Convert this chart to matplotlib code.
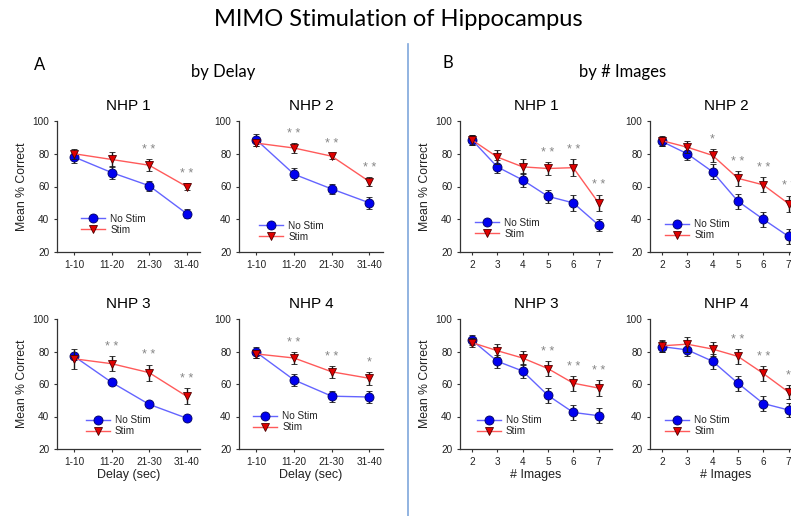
import matplotlib
matplotlib.use("Agg")
import matplotlib.pyplot as plt
from matplotlib.lines import Line2D

# -------------------
# data
# -------------------
delay_labels = ["1-10", "11-20", "21-30", "31-40"]
image_labels = ["2", "3", "4", "5", "6", "7"]

# by delay
d1_nostim = [78, 68.5, 60.5, 43.5]
d1_nostim_err = [3.5, 4, 3, 3]
d1_stim = [80, 76.5, 73, 60]
d1_stim_err = [3, 4.5, 3.5, 2]
d1_stars = ["", "", "* *", "* *"]

d2_nostim = [88.5, 67.5, 58.5, 50]
d2_nostim_err = [3.5, 3.5, 3, 3.5]
d2_stim = [86.5, 83.5, 78.5, 63]
d2_stim_err = [2, 3, 2, 2.5]
d2_stars = ["", "* *", "* *", "* *"]

d3_nostim = [77, 61, 47.5, 39]
d3_nostim_err = [1.5, 1, 1, 1]
d3_stim = [75.5, 72.5, 67, 52.5]
d3_stim_err = [6, 4.5, 5, 5]
d3_stars = ["", "* *", "* *", "* *"]

d4_nostim = [79.5, 62.5, 52.5, 52]
d4_nostim_err = [3.5, 3.5, 3.5, 3.5]
d4_stim = [78.5, 76, 67.5, 63.5]
d4_stim_err = [2.5, 3.5, 3.5, 4]
d4_stars = ["", "* *", "* *", "*"]

# by number of images
i1_nostim = [88.5, 72, 64, 54, 50, 36.5]
i1_nostim_err = [3, 4, 4.5, 4, 5, 3.5]
i1_stim = [88.5, 78, 72, 71, 71.5, 50]
i1_stim_err = [3, 4.5, 4.5, 4, 5, 5]
i1_stars = ["", "", "", "* *", "* *", "* *"]

i2_nostim = [87.5, 80, 69, 51, 40, 29.5]
i2_nostim_err = [3, 4, 4.5, 4.5, 4.5, 4.5]
i2_stim = [88, 84, 79, 65, 61, 49.5]
i2_stim_err = [3, 3.5, 4, 4.5, 4.5, 5]
i2_stars = ["", "", "*", "* *", "* *", "* *"]

i3_nostim = [87, 74, 68, 53, 42.5, 40.5]
i3_nostim_err = [3, 4, 4.5, 4.5, 4.5, 4.5]
i3_stim = [85.5, 80.5, 76, 69.5, 60.5, 57.5]
i3_stim_err = [3, 4, 4.5, 4.5, 4.5, 5]
i3_stars = ["", "", "", "* *", "* *", "* *"]

i4_nostim = [83, 81, 74, 60.5, 48, 44]
i4_nostim_err = [3.5, 4, 4.5, 4.5, 4.5, 4.5]
i4_stim = [83.5, 84.5, 81.5, 77, 66.5, 55]
i4_stim_err = [3.5, 4.5, 4.5, 4.5, 4.5, 4.5]
i4_stars = ["", "", "", "* *", "* *", "*"]

W, H = 791, 516
fig = plt.figure(figsize=(W / 100, H / 100), dpi=100)
fig.patch.set_facecolor("white")
FONT = ["Liberation Sans", "DejaVu Sans"]


def px_axes(left, top, width, height):
    return fig.add_axes([left / W, 1 - (top + height) / H, width / W, height / H])


def panel(ax, xs, labels, nostim, nostim_err, stim, stim_err, stars, title,
          xlim, leg_xy, ylabel=False, xlabel=None):
    ax.errorbar(xs, nostim, yerr=nostim_err, color="#6464ff", lw=1.0,
                marker="o", ms=6.5, mfc="#0000f0", mec="#000060", mew=0.6,
                ecolor="#1a1a1a", elinewidth=1.0, capsize=2.3, capthick=1.0, zorder=3)
    ax.errorbar(xs, stim, yerr=stim_err, color="#ff5a5a", lw=1.0,
                marker="v", ms=5.8, mfc="#e00000", mec="#500000", mew=0.6,
                ecolor="#1a1a1a", elinewidth=1.0, capsize=2.3, capthick=1.0, zorder=4)
    for x, s, e, st in zip(xs, stim, stim_err, stars):
        if st:
            ax.text(x, s + e + 2.0, st, ha="center", va="bottom", fontsize=9,
                    color="#858585", family=FONT)
    ax.set_xlim(*xlim)
    ax.set_ylim(20, 100)
    ax.set_yticks([20, 40, 60, 80, 100])
    ax.set_xticks(xs)
    ax.set_xticklabels(labels)
    for sp in ["top", "right"]:
        ax.spines[sp].set_visible(False)
    for sp in ["left", "bottom"]:
        ax.spines[sp].set_color("#333333")
        ax.spines[sp].set_linewidth(0.9)
    ax.tick_params(labelsize=7.2, length=2.5, width=0.8, colors="#333333", pad=3)
    for t in ax.get_xticklabels() + ax.get_yticklabels():
        t.set_family(FONT)
        t.set_color("#222222")
    ax.set_title(title, fontsize=11, family=FONT, pad=8)
    if ylabel:
        ax.set_ylabel("Mean % Correct", fontsize=8.8, family=FONT, labelpad=3,
                      color="#222222")
    if xlabel:
        ax.set_xlabel(xlabel, fontsize=9, family=FONT, labelpad=2, color="#222222")
    h1 = Line2D([], [], color="#6464ff", lw=1.0, marker="o", ms=6.5,
                mfc="#0000f0", mec="#000060", mew=0.6)
    h2 = Line2D([], [], color="#ff5a5a", lw=1.0, marker="v", ms=5.8,
                mfc="#e00000", mec="#500000", mew=0.6)
    leg = ax.legend([h1, h2], ["No Stim", "Stim"], loc="lower left",
                    bbox_to_anchor=leg_xy, frameon=False, fontsize=7.2,
                    handlelength=2.4, handletextpad=0.5, labelspacing=0.1,
                    borderpad=0, borderaxespad=0)
    for t in leg.get_texts():
        t.set_family(FONT)
        t.set_color("#222222")


dx = [0, 1, 2, 3]
ix = [2, 3, 4, 5, 6, 7]
dlim = (-0.46, 3.36)
ilim = (1.53, 7.53)

a = px_axes(57, 121, 143, 131)
panel(a, dx, delay_labels, d1_nostim, d1_nostim_err, d1_stim, d1_stim_err,
      d1_stars, "NHP 1", dlim, (0.17, 0.13), ylabel=True)
a = px_axes(239, 121, 144, 131)
panel(a, dx, delay_labels, d2_nostim, d2_nostim_err, d2_stim, d2_stim_err,
      d2_stars, "NHP 2", dlim, (0.14, 0.08))
a = px_axes(57, 319, 143, 130)
panel(a, dx, delay_labels, d3_nostim, d3_nostim_err, d3_stim, d3_stim_err,
      d3_stars, "NHP 3", dlim, (0.2, 0.1), ylabel=True, xlabel="Delay (sec)")
a = px_axes(239, 319, 144, 130)
panel(a, dx, delay_labels, d4_nostim, d4_nostim_err, d4_stim, d4_stim_err,
      d4_stars, "NHP 4", dlim, (0.1, 0.13), xlabel="Delay (sec)")

a = px_axes(460, 121, 152, 131)
panel(a, ix, image_labels, i1_nostim, i1_nostim_err, i1_stim, i1_stim_err,
      i1_stars, "NHP 1", ilim, (0.1, 0.1), ylabel=True)
a = px_axes(650, 121, 152, 131)
panel(a, ix, image_labels, i2_nostim, i2_nostim_err, i2_stim, i2_stim_err,
      i2_stars, "NHP 2", ilim, (0.1, 0.09))
a = px_axes(460, 319, 152, 130)
panel(a, ix, image_labels, i3_nostim, i3_nostim_err, i3_stim, i3_stim_err,
      i3_stars, "NHP 3", ilim, (0.11, 0.1), ylabel=True, xlabel="# Images")
a = px_axes(650, 319, 152, 130)
panel(a, ix, image_labels, i4_nostim, i4_nostim_err, i4_stim, i4_stim_err,
      i4_stars, "NHP 4", ilim, (0.1, 0.1), xlabel="# Images")

# headings and divider
TFONT = ["Lato", "DejaVu Sans"]
fig.text(398 / W, 1 - 20 / H, "MIMO Stimulation of Hippocampus", ha="center",
         va="center", fontsize=17, family=TFONT)
fig.text(40 / W, 1 - 65 / H, "A", ha="center", va="center", fontsize=12, family=TFONT)
fig.text(448 / W, 1 - 63 / H, "B", ha="center", va="center", fontsize=12, family=TFONT)
fig.text(223 / W, 1 - 72 / H, "by Delay", ha="center", va="center", fontsize=12, family=TFONT)
fig.text(623 / W, 1 - 72 / H, "by # Images", ha="center", va="center", fontsize=12, family=TFONT)
fig.add_artist(Line2D([408 / W, 408 / W], [1 - 44 / H, 0], color="#7fa7dc", lw=1.2))

fig.savefig("out.png", dpi=100)
